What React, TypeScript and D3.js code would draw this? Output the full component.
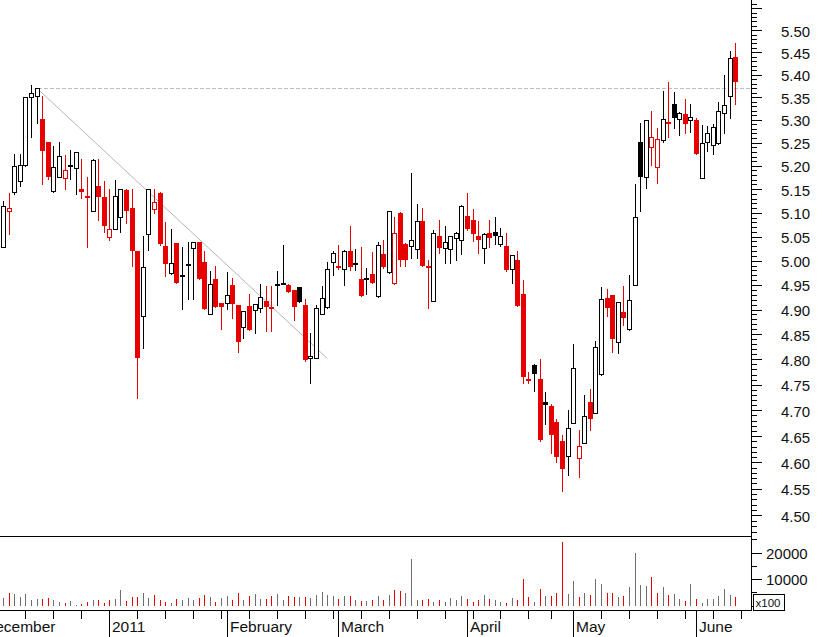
import * as d3 from 'd3';

const W = 817;
const H = 637;
const RED = '#e60000';
const GRAY = '#6e6e6e';

// trading calendar (weekdays, minus exchange holidays)
const holidays = ['2011-04-22', '2011-04-25'];
const calendarFrom = '2010-12-01';
const calendarTo = '2011-06-13';
const firstBar = '2010-12-07';
const monthNames = ['January', 'February', 'March', 'April', 'May', 'June', 'July', 'August', 'September', 'October', 'November', 'December'];

const open = [
  5.029, 5.103, 5.145, 5.168, 5.202, 5.350, 5.353, 5.302, 5.252, 5.147,
  5.176, 5.173, 5.199, 5.195, 5.151, 5.133, 5.103, 5.157, 5.134, 5.050,
  5.065, 5.091, 5.149, 5.110, 5.019, 4.887, 5.055, 5.108, 5.142, 5.031,
  4.974, 5.037, 4.969, 4.992, 5.026, 5.039, 4.997, 4.890, 4.962, 4.913,
  4.913, 4.950, 4.909, 4.865, 4.907, 4.899, 4.903, 4.918, 4.904, 4.950,
  4.953, 4.950, 4.940, 4.946, 4.909, 4.802, 4.802, 4.890, 4.905, 4.998,
  4.989, 4.982, 5.020, 4.993, 4.962, 4.962, 4.973, 4.927, 5.013, 4.976,
  4.954, 5.100, 5.035, 5.030, 5.024, 5.083, 4.987, 4.918, 5.051, 5.026,
  5.024, 5.047, 5.042, 5.093, 5.085, 5.051, 5.026, 5.057, 5.059, 5.034,
  5.031, 4.982, 5.002, 4.931, 4.761, 4.789, 4.761, 4.716, 4.709, 4.678,
  4.641, 4.613, 4.675, 4.608, 4.637, 4.716, 4.694, 4.771, 4.924, 4.929,
  4.834, 4.894, 4.860, 4.950, 5.251, 5.177, 5.240, 5.198, 5.256, 5.292,
  5.335, 5.302, 5.313, 5.299, 5.300, 5.174, 5.252, 5.245, 5.249, 5.314,
  5.352, 5.440,
];
const high = [
  5.124, 5.142, 5.226, 5.226, 5.351, 5.377, 5.370, 5.353, 5.252, 5.243,
  5.252, 5.224, 5.234, 5.230, 5.215, 5.176, 5.214, 5.215, 5.168, 5.151,
  5.170, 5.151, 5.151, 5.150, 5.019, 5.051, 5.151, 5.150, 5.143, 5.081,
  5.066, 5.037, 5.029, 5.039, 5.039, 5.039, 5.020, 4.979, 4.989, 4.913,
  4.976, 4.964, 4.910, 4.898, 4.931, 4.912, 4.952, 4.948, 4.948, 4.979,
  5.033, 4.951, 4.940, 4.946, 4.922, 4.852, 4.909, 4.948, 4.997, 5.020,
  5.033, 5.022, 5.072, 5.024, 5.029, 4.985, 5.018, 5.038, 5.043, 5.104,
  5.092, 5.102, 5.036, 5.184, 5.118, 5.111, 5.002, 5.063, 5.085, 5.072,
  5.052, 5.059, 5.116, 5.142, 5.108, 5.083, 5.057, 5.085, 5.091, 5.069,
  5.057, 5.011, 5.019, 4.960, 4.775, 4.790, 4.801, 4.735, 4.713, 4.683,
  4.652, 4.701, 4.831, 4.662, 4.730, 4.742, 4.837, 4.945, 4.942, 4.930,
  4.916, 4.947, 4.971, 5.161, 5.293, 5.300, 5.319, 5.281, 5.364, 5.384,
  5.361, 5.318, 5.346, 5.334, 5.303, 5.289, 5.287, 5.290, 5.340, 5.399,
  5.453, 5.471,
];
const low = [
  5.029, 5.056, 5.140, 5.157, 5.200, 5.262, 5.293, 5.161, 5.172, 5.143,
  5.175, 5.151, 5.172, 5.140, 5.132, 5.029, 5.103, 5.084, 5.060, 5.043,
  5.065, 5.060, 5.079, 4.988, 4.724, 4.823, 5.022, 5.100, 5.033, 4.969,
  4.972, 4.954, 4.902, 4.922, 4.922, 4.962, 4.901, 4.890, 4.905, 4.861,
  4.901, 4.882, 4.815, 4.843, 4.858, 4.853, 4.894, 4.857, 4.857, 4.909,
  4.952, 4.935, 4.878, 4.915, 4.797, 4.753, 4.802, 4.890, 4.904, 4.971,
  4.983, 4.950, 4.981, 4.981, 4.927, 4.932, 4.954, 4.926, 4.985, 4.975,
  4.953, 4.988, 4.988, 5.005, 5.005, 4.988, 4.903, 4.917, 5.016, 4.996,
  4.996, 5.002, 5.013, 5.064, 5.041, 5.016, 4.995, 5.029, 5.035, 5.031,
  4.979, 4.955, 4.907, 4.753, 4.753, 4.737, 4.641, 4.673, 4.617, 4.601,
  4.545, 4.576, 4.675, 4.573, 4.636, 4.662, 4.694, 4.770, 4.886, 4.815,
  4.812, 4.869, 4.859, 4.949, 5.103, 5.152, 5.201, 5.163, 5.252, 5.263,
  5.283, 5.267, 5.271, 5.274, 5.225, 5.173, 5.231, 5.225, 5.248, 5.270,
  5.303, 5.334,
];
const close = [
  5.115, 5.111, 5.200, 5.201, 5.350, 5.359, 5.370, 5.233, 5.175, 5.197,
  5.221, 5.191, 5.199, 5.229, 5.143, 5.133, 5.212, 5.133, 5.073, 5.066,
  5.136, 5.150, 5.103, 5.021, 4.803, 4.986, 5.150, 5.122, 5.034, 4.993,
  4.995, 4.955, 4.969, 4.992, 5.038, 4.963, 4.902, 4.952, 4.906, 4.906,
  4.929, 4.911, 4.835, 4.897, 4.859, 4.911, 4.926, 4.906, 4.904, 4.950,
  4.953, 4.936, 4.906, 4.916, 4.798, 4.807, 4.903, 4.923, 4.982, 5.016,
  4.984, 5.021, 4.986, 4.993, 4.928, 4.962, 4.955, 5.033, 4.986, 5.103,
  5.057, 5.002, 5.002, 5.042, 5.083, 4.989, 4.987, 5.057, 5.027, 5.038,
  5.051, 5.058, 5.115, 5.065, 5.056, 5.042, 5.055, 5.047, 5.051, 5.052,
  4.980, 5.011, 4.908, 4.766, 4.758, 4.771, 4.642, 4.711, 4.652, 4.611,
  4.587, 4.665, 4.783, 4.631, 4.689, 4.683, 4.824, 4.921, 4.903, 4.840,
  4.915, 4.883, 4.920, 5.091, 5.176, 5.299, 5.262, 5.257, 5.301, 5.292,
  5.303, 5.314, 5.290, 5.306, 5.225, 5.249, 5.271, 5.284, 5.320, 5.332,
  5.437, 5.384,
];
const volume = [
  2800, 4800, 4450, 3200, 4450, 2150, 2300, 2550, 2650, 1900,
  1150, 900, 1650, 50, 650, 1500, 2150, 1900, 900, 1900,
  2300, 5700, 1650, 3050, 3050, 4700, 2800, 3800, 1900, 1150,
  900, 2300, 1900, 2650, 1900, 2650, 3800, 3050, 1500, 2650,
  3450, 1900, 4600, 1900, 3450, 4200, 2300, 2300, 3450, 4200,
  1900, 3450, 3050, 3050, 3050, 2900, 3800, 4950, 3800, 3450,
  2550, 3450, 3450, 1900, 1650, 1650, 1900, 3450, 2150, 4050,
  5700, 5300, 4700, 17500, 1900, 1900, 2550, 1500, 1900, 1270,
  2900, 2150, 3450, 2300, 1500, 1900, 3800, 2300, 2150, 1500,
  900, 2900, 1900, 9900, 3200, 1270, 6350, 3450, 3450, 4700,
  24100, 4200, 9150, 3200, 4700, 3800, 10150, 8000, 4700, 4700,
  3200, 3550, 7000, 19950, 7600, 7250, 10800, 4700, 7000, 3800,
  4200, 2300, 1650, 8000, 2300, 900, 2550, 2550, 3450, 6100,
  3800, 3200,
];

// drawn annotations
const resistance = { from: '2010-12-15', price: 5.37 };
const trend = { from: '2010-12-15', p1: 5.37, to: '2011-02-25', p2: 4.802 };

const priceLabels = d3.range(450, 551, 5).map((v) => v / 100);
const volumeLabels = [10000, 20000];

function tradingDays(from: string, to: string, skip: string[]) {
  const out: string[] = [];
  const d = new Date(from + 'T00:00:00Z');
  const end = new Date(to + 'T00:00:00Z');
  while (d <= end) {
    const wd = d.getUTCDay();
    const iso = d.toISOString().slice(0, 10);
    if (wd !== 0 && wd !== 6 && !skip.includes(iso)) out.push(iso);
    d.setUTCDate(d.getUTCDate() + 1);
  }
  return out;
}

export default function App() {
  const calendar = tradingDays(calendarFrom, calendarTo, holidays);
  const first = calendar.indexOf(firstBar);

  const x = d3.scaleLinear().domain([first, first + open.length - 1]).range([3.13, 735.2]);
  const y = d3.scaleLog().domain([4.462, 5.569]).range([536, 0]);
  const vy = d3.scaleLinear().domain([0, 20000]).range([605.5, 552.5]);
  const px = (k: number) => Math.round(x(k)) + 0.5;
  const axisX = 751.5;
  const font = '"Liberation Sans", Arial, sans-serif';

  const dow = (iso: string) => new Date(iso + 'T00:00:00Z').getUTCDay();
  const monthStarts = calendar
    .map((d, k) => ({ d, k }))
    .filter(({ d, k }) => k === 0 || d.slice(5, 7) !== calendar[k - 1].slice(5, 7));
  const weekStarts = calendar
    .map((d, k) => ({ d, k }))
    .filter(({ d, k }) => k > 0 && dow(d) < dow(calendar[k - 1]));

  const priceTicks = d3.range(447, 557).map((v) => v / 100);
  const volTicks = d3.range(0, 25001, 5000);

  const candles = open.map((o, i) => {
    const k = first + i;
    const c = close[i];
    const prev = i > 0 ? close[i - 1] : null;
    const col = prev !== null && c <= prev ? RED : '#000';
    const cx = px(k);
    const yo = y(o);
    const yc = y(c);
    const top = Math.min(yo, yc);
    const bot = Math.max(yo, yc);
    let body;
    if (bot - top < 1.5) {
      body = <rect x={cx - 2.5} y={Math.round((top + bot) / 2) - 1} width={5} height={2} fill={col} />;
    } else if (c > o) {
      const t = Math.round(top) + 0.5;
      const b = Math.round(bot) + 0.5;
      body = <rect x={cx - 2} y={t} width={4} height={b - t} fill="#fff" stroke={col} strokeWidth={1} />;
    } else {
      body = <rect x={cx - 2.5} y={Math.round(top)} width={5} height={Math.max(1, Math.round(bot) - Math.round(top))} fill={col} />;
    }
    return (
      <g key={i}>
        <line x1={cx} x2={cx} y1={Math.round(y(high[i]))} y2={Math.round(y(low[i])) + 1} stroke={col} strokeWidth={1} />
        {body}
      </g>
    );
  });

  const vols = volume.map((v, i) => {
    const k = first + i;
    const down = i > 0 && close[i] < close[i - 1];
    return (
      <line
        key={i}
        x1={px(k)}
        x2={px(k)}
        y1={Math.round(vy(0))}
        y2={Math.round(vy(v))}
        stroke={down ? RED : GRAY}
        strokeWidth={1}
      />
    );
  });

  const rk = calendar.indexOf(resistance.from);
  const t1 = calendar.indexOf(trend.from);
  const t2 = calendar.indexOf(trend.to);

  return (
    <svg
      width={W}
      height={H}
      style={{ position: 'absolute', left: 0, top: 0, background: '#fff' }}
      fontFamily={font}
    >
      <g shapeRendering="crispEdges">
        <line x1={px(rk)} x2={axisX} y1={Math.round(y(resistance.price)) + 0.5} y2={Math.round(y(resistance.price)) + 0.5} stroke="#bdbdbd" strokeDasharray="4,2" />
      </g>
      <line x1={x(t1)} y1={y(trend.p1)} x2={x(t2)} y2={y(trend.p2)} stroke="#b5b5b5" strokeWidth={1} />

      <g shapeRendering="crispEdges">
        {candles}
        {vols}

        {/* panel frame */}
        <line x1={0} x2={axisX} y1={536.5} y2={536.5} stroke="#000" />
        <line x1={0} x2={axisX} y1={610.5} y2={610.5} stroke="#000" />
        <line x1={axisX} x2={axisX} y1={0} y2={611} stroke="#000" />

        {/* price ticks */}
        {priceTicks.map((p) => {
          const major = Math.round(p * 100) % 5 === 0;
          const yy = Math.round(y(p)) + 0.5;
          if (yy > 536) return null;
          return <line key={p} x1={axisX} x2={axisX + (major ? 10 : 5)} y1={yy} y2={yy} stroke="#000" />;
        })}

        {/* volume ticks */}
        {volTicks.map((v) => {
          const yy = Math.round(vy(v)) + 0.5;
          const major = v % 10000 === 0 && v > 0;
          return <line key={v} x1={axisX} x2={axisX + (major ? 10 : 5)} y1={yy} y2={yy} stroke="#000" />;
        })}

        {/* date axis */}
        {weekStarts.map(({ k }) => (
          <line key={'w' + k} x1={px(k)} x2={px(k)} y1={610.5} y2={618.5} stroke="#000" />
        ))}
        {monthStarts.map(({ k }) => (
          <line key={'m' + k} x1={px(k)} x2={px(k)} y1={610.5} y2={H} stroke="#000" />
        ))}

        <rect x={753.5} y={594.5} width={31} height={16} fill="#fff" stroke="#000" />
      </g>

      {priceLabels.map((p) => (
        <text key={p} x={781} y={y(p) + 6.5} fontSize={15} fill="#111">
          {p.toFixed(2)}
        </text>
      ))}
      {volumeLabels.map((v) => (
        <text key={v} x={766} y={vy(v) + 6} fontSize={15} fill="#111">
          {v}
        </text>
      ))}
      <text x={755.5} y={607} fontSize={11.5} fill="#111">x100</text>

      {monthStarts.map(({ d, k }) => {
        const m = +d.slice(5, 7) - 1;
        const label = m === 0 ? d.slice(0, 4) : monthNames[m];
        return (
          <text key={'t' + k} x={px(k) + 2.5} y={632} fontSize={15.5} fill="#111">
            {label}
          </text>
        );
      })}
    </svg>
  );
}
